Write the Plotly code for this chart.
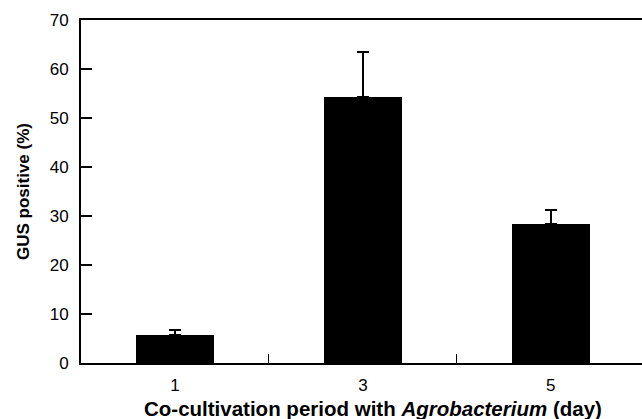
import plotly.graph_objects as go

days = [1, 3, 5]
gus_positive = [5.7, 54.3, 28.3]
gus_error = [1.0, 9.1, 3.0]
y_ticks = [0, 10, 20, 30, 40, 50, 60, 70]

fig = go.Figure()
fig.add_trace(go.Bar(
    x=days, y=gus_positive, width=0.83,
    marker=dict(color="black", line=dict(width=0)),
    error_y=dict(type="data", symmetric=False, array=gus_error,
                 arrayminus=[0] * len(gus_error),
                 color="black", thickness=2, width=6),
))

fig.update_layout(
    width=642, height=419,
    margin=dict(l=81, r=0, t=20, b=56),
    plot_bgcolor="white", paper_bgcolor="white",
    showlegend=False,
    font=dict(family="Liberation Sans, Arial, sans-serif", color="black", size=17),
    bargap=0,
)
fig.update_xaxes(
    range=[0, 5.97], tickvals=days, ticktext=[str(d) for d in days],
    ticks="", showline=True, linecolor="black", linewidth=2, mirror=True,
    showgrid=False, zeroline=False, tickfont=dict(size=17), ticklabelstandoff=6,
    minor=dict(tickvals=[2, 4], ticks="inside", ticklen=9, tickcolor="black", tickwidth=1),
)
fig.update_yaxes(
    range=[0, 70], tickvals=y_ticks, ticks="inside", ticklen=11, tickwidth=1.5,
    tickcolor="black", showline=True, linecolor="black", linewidth=2,
    showgrid=False, zeroline=False, tickfont=dict(size=17), ticklabelstandoff=7,
    title=dict(text="<b>GUS positive (%)</b>", font=dict(size=17), standoff=16),
)
fig.add_annotation(
    text="<b>Co-cultivation period with <i>Agrobacterium</i> (day)</b>",
    xref="paper", yref="paper", x=(373 - 81) / 561, y=0, yshift=-45,
    xanchor="center", yanchor="middle", showarrow=False, font=dict(size=20.5),
)
fig.write_html("out.html", config={"displayModeBar": False},
               post_script="document.body.style.margin='0';document.body.style.overflow='hidden';")
